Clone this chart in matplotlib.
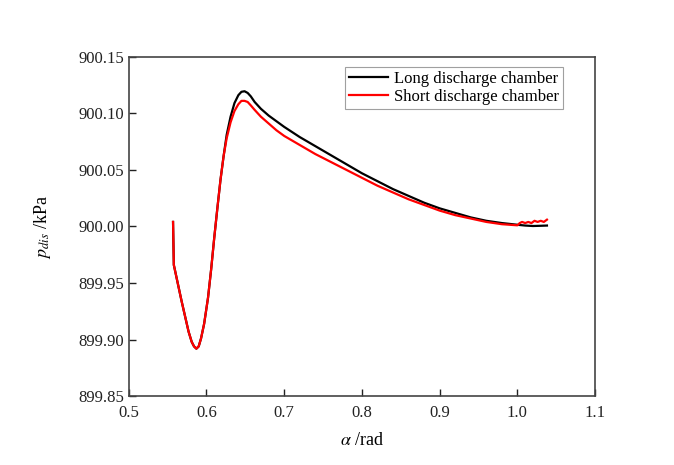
import matplotlib
matplotlib.use("Agg")
import matplotlib.pyplot as plt

# values
alpha_common = [0.557, 0.5575, 0.558, 0.563, 0.568, 0.573, 0.577, 0.581, 0.584, 0.587,
                0.590, 0.593, 0.597, 0.602, 0.606, 0.610, 0.614, 0.618, 0.622]
p_common = [900.004, 899.985, 899.966, 899.950, 899.934, 899.919, 899.907, 899.898, 899.894,
            899.892, 899.894, 899.901, 899.914, 899.937, 899.962, 899.990, 900.016, 900.041, 900.062]

alpha_long = [0.626, 0.631, 0.636, 0.641, 0.645, 0.649, 0.653, 0.657, 0.662, 0.670, 0.680,
              0.690, 0.700, 0.720, 0.740, 0.760, 0.780, 0.800, 0.820, 0.840, 0.860, 0.880,
              0.900, 0.920, 0.940, 0.960, 0.980, 1.000, 1.010, 1.020, 1.030, 1.038]
p_long = [900.081, 900.097, 900.109, 900.116, 900.119, 900.1195, 900.118, 900.115, 900.110,
          900.104, 900.098, 900.093, 900.088, 900.079, 900.071, 900.063, 900.055, 900.047,
          900.040, 900.033, 900.027, 900.021, 900.016, 900.012, 900.008, 900.005, 900.003,
          900.0015, 900.0008, 900.0004, 900.0006, 900.0008]

alpha_short = [0.626, 0.631, 0.636, 0.641, 0.645, 0.649, 0.653, 0.657, 0.662, 0.670, 0.680,
               0.690, 0.700, 0.720, 0.740, 0.760, 0.780, 0.800, 0.820, 0.840, 0.860, 0.880,
               0.900, 0.920, 0.940, 0.960, 0.980, 1.000, 1.003, 1.006, 1.010, 1.014, 1.018,
               1.022, 1.026, 1.030, 1.034, 1.038]
p_short = [900.078, 900.092, 900.102, 900.108, 900.111, 900.111, 900.110, 900.107, 900.103,
           900.097, 900.091, 900.085, 900.080, 900.072, 900.064, 900.057, 900.050, 900.043,
           900.036, 900.030, 900.024, 900.019, 900.014, 900.010, 900.007, 900.004, 900.002,
           900.001, 900.003, 900.004, 900.003, 900.004, 900.003, 900.005, 900.004, 900.005,
           900.004, 900.006]

x_ticks = [0.5, 0.6, 0.7, 0.8, 0.9, 1.0, 1.1]
y_ticks = [899.85, 899.90, 899.95, 900.00, 900.05, 900.10, 900.15]

plt.rcParams["font.family"] = ["Liberation Serif", "DejaVu Serif"]
plt.rcParams["mathtext.fontset"] = "stix"

fig = plt.figure(figsize=(6.74, 4.65), dpi=100)
ax = fig.add_axes([0.191, 0.148, 0.692, 0.730])

ax.plot(alpha_common + alpha_long, p_common + p_long, color="black", lw=1.6,
        label="Long discharge chamber")
ax.plot(alpha_common + alpha_short, p_common + p_short, color="red", lw=1.6,
        label="Short discharge chamber")

ax.set_xlim(0.5, 1.1)
ax.set_ylim(899.85, 900.15)
ax.set_xticks(x_ticks)
ax.set_xticklabels([f"{v:.1f}" for v in x_ticks])
ax.set_yticks(y_ticks)
ax.set_yticklabels([f"{v:.2f}" for v in y_ticks])
ax.tick_params(direction="in", length=5, width=1, labelsize=12, colors="#222222",
               top=False, right=False)
ax.tick_params(axis="x", pad=6)

for s in ax.spines.values():
    s.set_color("#444444")
    s.set_linewidth(1.2)

ax.set_xlabel(r"$\alpha$ /rad", fontsize=13, labelpad=8)
ax.set_ylabel(r"$p_{dis}$ /kPa", fontsize=13, labelpad=18)

leg = ax.legend(loc="upper right", bbox_to_anchor=(0.932, 0.97), fontsize=12,
                frameon=True, fancybox=False, handlelength=2.3, handletextpad=0.4,
                borderpad=0.25, labelspacing=0.1, borderaxespad=0)
leg.get_frame().set_edgecolor("#888888")
leg.get_frame().set_linewidth(0.8)

fig.savefig("out.png", dpi=100)
